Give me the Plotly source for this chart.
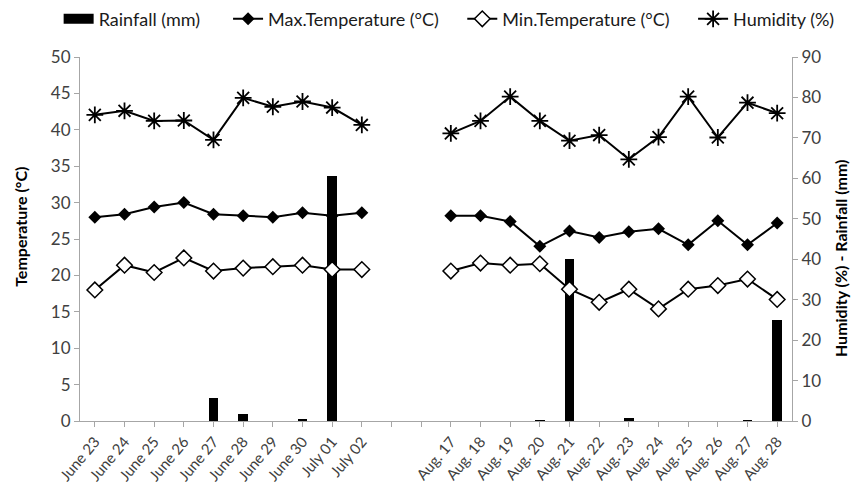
import plotly.graph_objects as go

categories = ["June 23", "June 24", "June 25", "June 26", "June 27", "June 28", "June 29",
              "June 30", "July 01", "July 02", " ", "  ",
              "Aug. 17", "Aug. 18", "Aug. 19", "Aug. 20", "Aug. 21", "Aug. 22", "Aug. 23",
              "Aug. 24", "Aug. 25", "Aug. 26", "Aug. 27", "Aug. 28"]

rainfall = [0, 0, 0, 0, 5.8, 1.8, 0, 0.4, 60.7, 0, None, None,
            0, 0, 0, 0.2, 40.0, 0, 0.7, 0, 0, 0, 0.1, 25.0]
max_temp = [28.0, 28.4, 29.4, 30.0, 28.4, 28.2, 28.0, 28.6, 28.2, 28.6, None, None,
            28.2, 28.2, 27.4, 24.0, 26.1, 25.2, 26.0, 26.4, 24.2, 27.5, 24.2, 27.2]
min_temp = [18.0, 21.4, 20.4, 22.4, 20.6, 21.0, 21.2, 21.4, 20.8, 20.8, None, None,
            20.6, 21.7, 21.4, 21.6, 18.1, 16.3, 18.1, 15.4, 18.1, 18.6, 19.5, 16.7]
humidity = [75.7, 76.7, 74.2, 74.3, 69.5, 79.9, 77.7, 79.0, 77.5, 73.2, None, None,
            71.1, 74.2, 80.2, 74.2, 69.3, 70.7, 64.7, 70.2, 80.2, 70.1, 78.7, 76.1]

FONT = "Lato, 'Open Sans', sans-serif"
TICK_COLOR = "#404040"
AXIS_COLOR = "#a6a6a6"
NB = "\u00a0"

fig = go.Figure()

# Rainfall bars (legend entry drawn via a wide-line proxy so it shows as a rectangle)
fig.add_trace(go.Bar(
    x=categories, y=rainfall, name="Rainfall (mm)", yaxis="y", showlegend=False,
    marker=dict(color="black", line=dict(width=0)), width=0.33,
))
fig.add_trace(go.Scatter(
    x=[None], y=[None], name="Rainfall (mm)" + NB * 5, yaxis="y", mode="lines",
    line=dict(color="black", width=10), hoverinfo="skip",
))
fig.add_trace(go.Scatter(
    x=categories, y=max_temp, name="Max.Temperature (°C)" + NB * 4, yaxis="y2",
    mode="lines+markers", connectgaps=False,
    line=dict(color="black", width=2),
    marker=dict(symbol="diamond", size=10, color="black"),
))
fig.add_trace(go.Scatter(
    x=categories, y=min_temp, name="Min.Temperature (°C)" + NB * 4, yaxis="y2",
    mode="lines+markers", connectgaps=False,
    line=dict(color="black", width=2),
    marker=dict(symbol="diamond", size=12, color="white", line=dict(color="black", width=1.5)),
))
fig.add_trace(go.Scatter(
    x=categories, y=humidity, name="Humidity (%)", yaxis="y",
    mode="lines+markers", connectgaps=False,
    line=dict(color="black", width=2),
    marker=dict(symbol="asterisk-open", size=14, color="black", line=dict(color="black", width=1.8)),
))

fig.update_layout(
    width=865, height=499,
    margin=dict(l=80, r=73, t=57, b=78, autoexpand=False),
    paper_bgcolor="white", plot_bgcolor="white",
    font=dict(family=FONT, size=15, color=TICK_COLOR),
    showlegend=True,
    legend=dict(orientation="h", x=-0.03, xanchor="left", y=1.104, yanchor="middle",
                font=dict(size=18, color="#1a1a1a"), traceorder="normal",
                bgcolor="rgba(0,0,0,0)"),
    bargap=0,
    xaxis=dict(type="category", categoryorder="array", categoryarray=categories,
               range=[-0.5, 23.5], showline=True, linecolor=AXIS_COLOR, linewidth=1,
               ticks="outside", ticklen=5, tickcolor=AXIS_COLOR, tickangle=-50,
               tickfont=dict(size=15, color=TICK_COLOR), showgrid=False, automargin=False),
    yaxis=dict(side="right", range=[0, 90], dtick=10, showline=True, linecolor=AXIS_COLOR,
               ticks="outside", ticklen=5, tickcolor=AXIS_COLOR, showgrid=False,
               zeroline=False, tickfont=dict(size=17, color=TICK_COLOR), automargin=False),
    yaxis2=dict(side="left", overlaying="y", range=[0, 50], dtick=5, showline=True,
                linecolor=AXIS_COLOR, ticks="outside", ticklen=5, tickcolor=AXIS_COLOR,
                showgrid=False, zeroline=False, tickfont=dict(size=17, color=TICK_COLOR),
                automargin=False),
    annotations=[
        dict(text="<b>Temperature (°C)</b>", xref="paper", yref="paper", x=-0.084, y=0.534,
             textangle=-90, showarrow=False, font=dict(size=16, color="black"),
             xanchor="center", yanchor="middle"),
        dict(text="<b>Humidity (%) - Rainfall (mm)</b>", xref="paper", yref="paper",
             x=1.068, y=0.446, textangle=-90, showarrow=False,
             font=dict(size=16, color="black"), xanchor="center", yanchor="middle"),
    ],
)

fig.write_html("out.html", config={"displayModeBar": False},
               post_script="document.body.style.margin='0';")
